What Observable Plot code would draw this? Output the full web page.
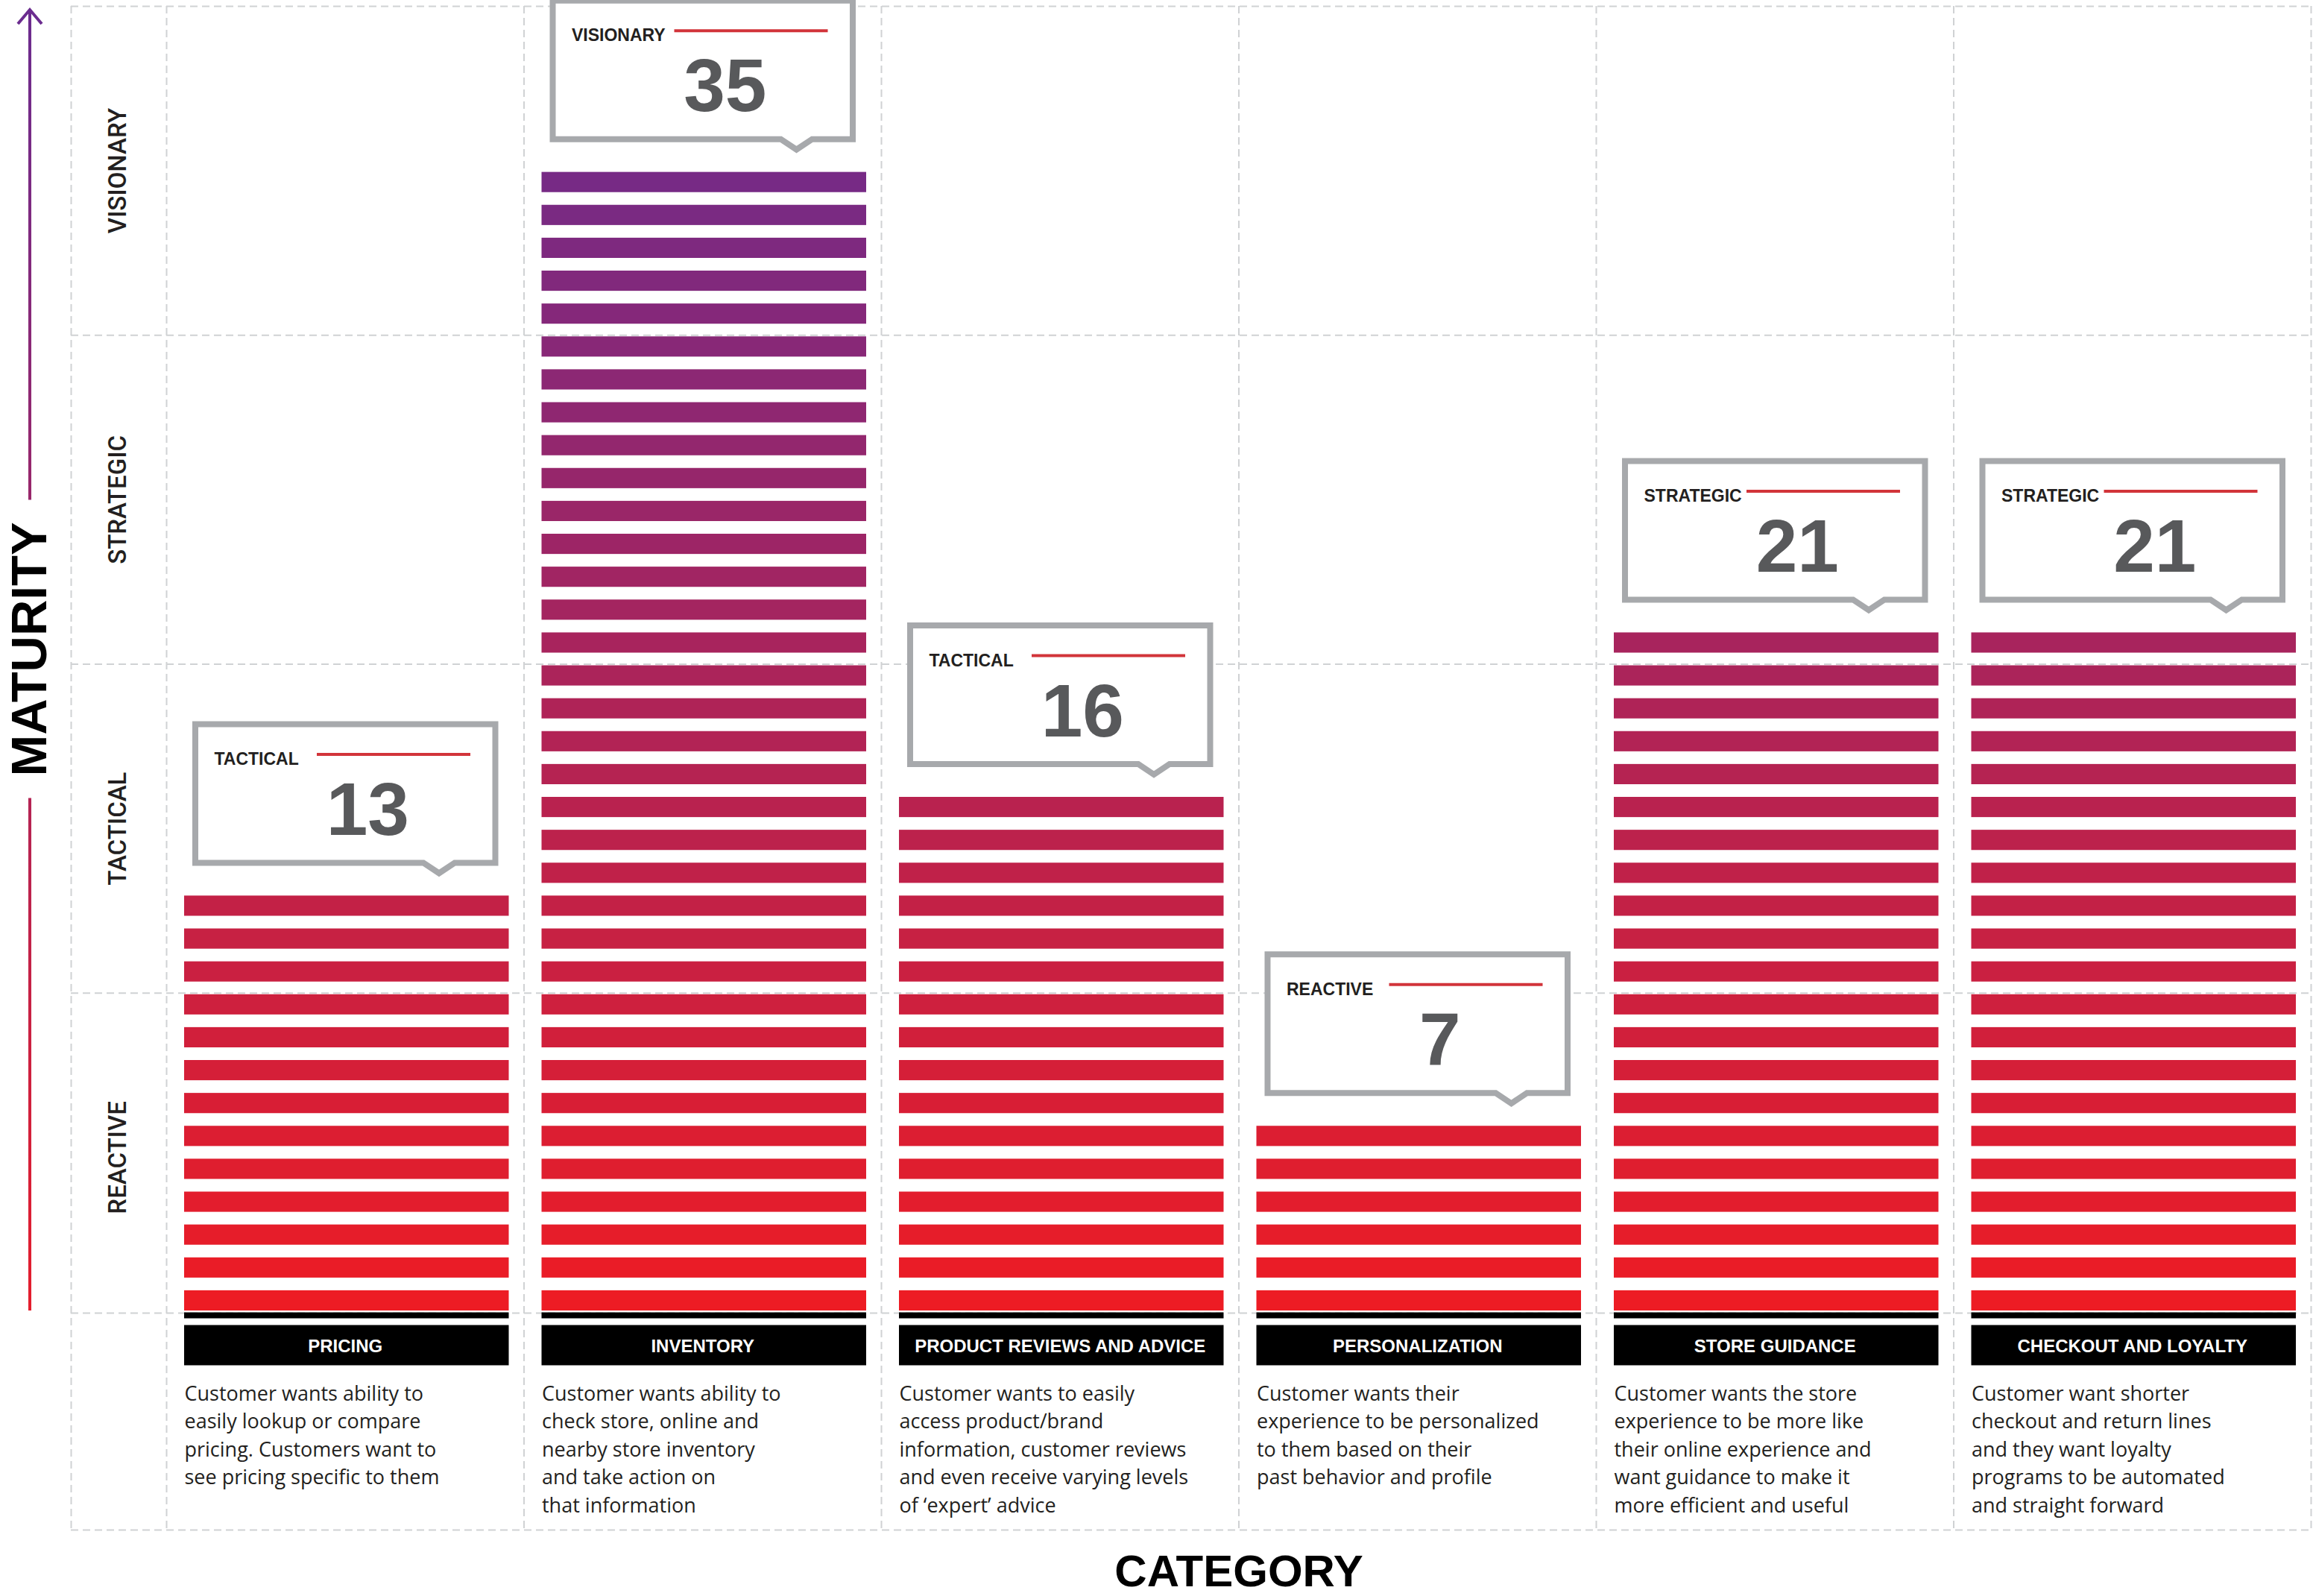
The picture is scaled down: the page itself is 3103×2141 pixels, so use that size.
<!DOCTYPE html>
<html>
<head>
<meta charset="utf-8">
<script src="https://cdn.jsdelivr.net/npm/d3@7"></script>
<script src="https://cdn.jsdelivr.net/npm/@observablehq/plot@0.6"></script>
<style>
  html, body { margin: 0; padding: 0; background: #ffffff; }
  #chart svg { display: block; }
</style>
</head>
<body>
<div id="chart"></div>
<script>
// ---------------- data ----------------
const categories = ["Pricing", "Inventory", "Product Reviews and Advice", "Personalization", "Store Guidance", "Checkout and Loyalty"];
const scores = [13, 35, 16, 7, 21, 21];          // numbers printed in the callouts
const barCounts = [13, 35, 16, 6, 21, 21];       // stripes actually drawn in each column
const levels = ["Reactive", "Tactical", "Strategic", "Visionary"];
const levelSize = 10;
const descriptions = [
  "Customer wants ability to\neasily lookup or compare\npricing. Customers want to\nsee pricing specific to them",
  "Customer wants ability to\ncheck store, online and\nnearby store inventory\nand take action on\nthat information",
  "Customer wants to easily\naccess product/brand\ninformation, customer reviews\nand even receive varying levels\nof \u2018expert\u2019 advice",
  "Customer wants their\nexperience to be personalized\nto them based on their\npast behavior and profile",
  "Customer wants the store\nexperience to be more like\ntheir online experience and\nwant guidance to make it\nmore efficient and useful",
  "Customer want shorter\ncheckout and return lines\nand they want loyalty\nprograms to be automated\nand straight forward"
];
const yTitle = "MATURITY";
const xTitle = "CATEGORY";

// ---------------- derived tables ----------------
const cols = categories.map((c, i) => ({
  category: c, col: i, score: scores[i], bars: barCounts[i],
  level: levels[Math.floor((scores[i] - 1) / levelSize)], desc: descriptions[i]
}));
const barRows = cols.flatMap(d => d3.range(1, d.bars + 1).map(k => ({category: d.category, col: d.col, k})));
const levelRows = levels.map((l, i) => ({level: l, mid: i * levelSize + levelSize / 2}));
const levelBreaks = levels.map((l, i) => (i + 1) * levelSize);

// ---------------- layout ----------------
const W = 3103, H = 2141;
const M = {left: 223, right: 3, top: 8, bottom: 368};
const nCols = categories.length;
const yMax = levels.length * levelSize;
const colW = (W - M.left - M.right) / nCols;
const pyu = (H - M.top - M.bottom) / yMax;
const xu = px => px / colW;   // pixel offset -> x units
const yu = px => px / pyu;    // pixel offset -> y units
const xLeftBorder = xu(-128), xLevelText = xu(-65), xArrow = xu(-183), yBottomBorder = yu(-279);
const grid = {stroke: "#D0D2D4", strokeWidth: 2, strokeDasharray: "10,6"};
const SANS = "'Liberation Sans', Arial, Helvetica, sans-serif";
const LIGHT = "'Open Sans', Lato, 'Liberation Sans', sans-serif";
const MEDIUM = "Roboto, 'Liberation Sans', sans-serif";
const barInset = {insetLeft: 24, insetRight: 20};
const descSize = 27, descLead = 37.6;

// callout outlines (drawn with the chart's own scales)
function callouts(index, scales) {
  const g = d3.create("svg:g");
  for (const d of cols) {
    const xl = scales.x(d.col), xr = scales.x(d.col + 1);
    const T = scales.y(d.bars) + 2;            // top of highest stripe
    const L = xl + 39, R = xr - 38, top = T - 230, B = T - 44, tip = xl + 366;
    g.append("path")
      .attr("d", `M${L},${top}H${R}V${B}H${tip + 21}L${tip},${B + 14}L${tip - 21},${B}H${L}Z`)
      .attr("fill", "white").attr("stroke", "#A7A9AC").attr("stroke-width", 8)
      .attr("stroke-linejoin", "miter");
  }
  return g.node();
}

// maturity arrow with gradient
function maturityArrow(index, scales) {
  const g = d3.create("svg:g");
  const ax = scales.x(xArrow);
  const yTop = scales.y(yMax) + 5, yBot = scales.y(0) - 15;
  const mid = scales.y(yMax / 2) - 20, gap = 200;
  const grad = g.append("defs").append("linearGradient")
    .attr("id", "matGrad").attr("gradientUnits", "userSpaceOnUse")
    .attr("x1", ax).attr("x2", ax).attr("y1", yTop).attr("y2", yBot);
  grad.append("stop").attr("offset", 0).attr("stop-color", "#6B2C8F");
  grad.append("stop").attr("offset", 1).attr("stop-color", "#E41E2D");
  g.append("path").attr("d", `M${ax},${yTop}V${mid - gap}M${ax},${mid + gap}V${yBot}`)
    .attr("stroke", "url(#matGrad)").attr("stroke-width", 4).attr("fill", "none");
  g.append("path").attr("d", `M${ax - 16},${yTop + 19}L${ax},${yTop}L${ax + 16},${yTop + 19}`)
    .attr("stroke", "#6B2C8F").attr("stroke-width", 4).attr("fill", "none");
  return g.node();
}

const chart = Plot.plot({
  width: W, height: H,
  marginLeft: M.left, marginRight: M.right, marginTop: M.top, marginBottom: M.bottom,
  x: {domain: [0, nCols], axis: null},
  y: {domain: [0, yMax], axis: null},
  color: {type: "linear", domain: [1, d3.max(barCounts)], range: ["#ED1C24", "#772A85"], interpolate: "rgb"},
  style: {background: "white", fontFamily: SANS},
  marks: [
    // dashed grid
    Plot.ruleY(levelBreaks, {x1: () => xLeftBorder, x2: () => nCols, ...grid}),
    Plot.ruleY([0], {x1: () => xLeftBorder, x2: () => nCols, dy: -12, ...grid}),
    Plot.ruleY([yBottomBorder], {x1: () => xLeftBorder, x2: () => nCols, ...grid}),
    Plot.ruleX(d3.range(0, nCols + 1).concat([xLeftBorder]), {y1: () => yMax, y2: () => yBottomBorder, ...grid}),

    // stripes
    Plot.rect(barRows, {x1: "col", x2: d => d.col + 1, y1: d => d.k - 1, y2: "k", fill: "k",
      ...barInset, insetTop: 2, insetBottom: 15}),

    // base line and category label boxes
    Plot.ruleY(cols, {y: () => 0, x1: "col", x2: d => d.col + 1, ...barInset, dy: -9, stroke: "#000", strokeWidth: 8}),
    Plot.ruleY(cols, {y: () => 0, x1: "col", x2: d => d.col + 1, ...barInset, dy: 31, stroke: "#000", strokeWidth: 54}),
    Plot.text(cols, {x: d => d.col + 0.5, y: () => 0, dy: 33, text: d => d.category.toUpperCase(),
      fill: "#ffffff", fontSize: 24, fontWeight: "bold", fontFamily: SANS, lineAnchor: "middle"}),

    // descriptions
    Plot.text(cols, {x: "col", y: () => 0, dx: 24, dy: 105 - 0.71 * descLead, text: "desc",
      textAnchor: "start", lineAnchor: "top", fontSize: descSize, lineHeight: descLead / descSize,
      fill: "#231F20", fontWeight: 400, fontFamily: LIGHT}),

    // callouts
    callouts,
    Plot.ruleY(cols, {y: "bars", x1: "col", x2: d => d.col + 1, insetLeft: 202, insetRight: colW - 408,
      dy: -188, stroke: "#D2343A", strokeWidth: 4}),
    Plot.text(cols, {x: "col", y: "bars", dx: 64, dy: -174, text: d => d.level.toUpperCase(),
      textAnchor: "start", lineAnchor: "bottom", fontSize: 23, fontWeight: "bold", fontFamily: SANS, fill: "#231F20"}),
    Plot.text(cols, {x: d => d.col + 0.5, y: "bars", dx: 30, dy: -80, text: d => String(d.score),
      lineAnchor: "bottom", fontSize: 100, fontWeight: "bold", fontFamily: SANS, fill: "#58595B"}),

    // level labels
    Plot.text(levelRows, {x: () => xLevelText, y: "mid", text: d => d.level.toUpperCase(), rotate: -90,
      fontSize: 33, fontWeight: 500, fontFamily: MEDIUM, fill: "#231F20", lineAnchor: "middle"}),

    // axis titles
    maturityArrow,
    Plot.text([yTitle], {x: () => xArrow, y: () => yMax / 2, dy: -20, text: d => d, rotate: -90,
      fontSize: 67, fontWeight: "bold", fontFamily: SANS, fill: "#000", lineAnchor: "middle"}),
    Plot.text([xTitle], {x: () => nCols / 2, y: () => 0, dy: 354, text: d => d,
      fontSize: 60, fontWeight: "bold", fontFamily: SANS, fill: "#000", lineAnchor: "bottom"})
  ]
});
document.getElementById("chart").appendChild(chart);
</script>
</body>
</html>
